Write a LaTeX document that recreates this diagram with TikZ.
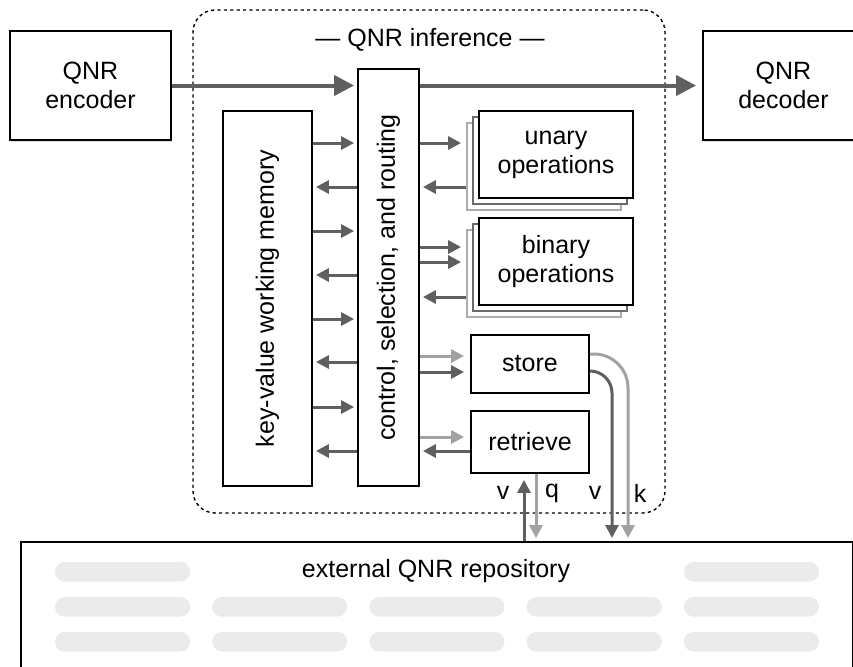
\documentclass[tikz,border=0pt]{standalone}
\usepackage{fontspec}
\setmainfont{Liberation Sans}
\usetikzlibrary{arrows.meta,shadows}

\definecolor{arrdark}{HTML}{5F5F5F}
\definecolor{arrlight}{HTML}{A2A2A2}
\definecolor{backdark}{HTML}{6A6A6A}
\definecolor{backlight}{HTML}{ACACAC}
\definecolor{pillgray}{HTML}{EBEBED}

\begin{document}
\begin{tikzpicture}[x=0.5pt, y=-0.5pt,
        every node/.style={font=\fontsize{12.5}{14.5}\selectfont},
        box/.style={draw, line width=0.9pt, fill=white, inner sep=0pt, align=center},
        back/.style={draw, line width=0.9pt, fill=white, inner sep=0pt, minimum width=77pt, minimum height=43.5pt},
        ends/.style={box, minimum width=80.5pt, minimum height=54.5pt,
            drop shadow={shadow xshift=0.4pt, shadow yshift=-0.8pt, opacity=0.25}},
        ops/.style={box, minimum width=77pt, minimum height=43.5pt},
        arr/.style={draw=arrdark, line width=1.5pt, -{Triangle[length=6.5pt,width=6.5pt]}},
        arrl/.style={arr, draw=arrlight},
        mainarr/.style={draw=arrdark, line width=2pt, -{Triangle[length=10pt,width=10pt]}},
        pill/.style={fill=pillgray, rounded corners=4.8pt}]
        \useasboundingbox (0,0) rectangle (853,666);

        \node[draw, line width=0.7pt, dash pattern=on 1.6pt off 1.6pt, rounded corners=11pt,
            minimum width=236pt, minimum height=251.5pt] (infer) at (429,261.5) {};
        \node (title) at (430,40) {— QNR inference —};

        \node[ends] (enc) at (90.5,85.5) {QNR\\encoder};
        \node[ends] (dec) at (783.5,85.5) {QNR\\decoder};

        \node[box, minimum width=44.5pt, minimum height=187.5pt] (mem) at (267.5,298.5) {\rotatebox{90}{key-value working memory}};
        \node[box, minimum width=30.5pt, minimum height=208.5pt] (ctrl) at (388.5,277.5) {\rotatebox{90}{control, selection, and routing}};

        \node[back, draw=backlight] (unary3) at (544,166.5) {};
        \node[back, draw=backdark] (unary2) at (550,160.5) {};
        \node[ops] (unary) at (556,154.5) {unary\\operations};

        \node[back, draw=backlight] (binary3) at (544,273.5) {};
        \node[back, draw=backdark] (binary2) at (550,267.5) {};
        \node[ops] (binary) at (556,261.5) {binary\\operations};

        \node[box, minimum width=59pt, minimum height=29pt] (store) at (530,364) {store};
        \node[box, minimum width=59pt, minimum height=31pt] (retrieve) at (530,442) {retrieve};

        \node[box, anchor=north west, minimum width=416pt, minimum height=75pt] (repo) at (20,541) {};
        \node (repotext) at (436,571) {external QNR repository};
        \foreach \c in {0,4}
            \fill[pill] (55+157.25*\c,562) rectangle ++(135,19.5);
        \foreach \r in {1,2}
            \foreach \c in {0,...,4}
                \fill[pill] (55+157.25*\c,562+35*\r) rectangle ++(135,19.5);

        \draw[mainarr, shorten >=1.5pt] (enc.east) -- (ctrl.west |- enc.east);
        \draw[mainarr, shorten >=3pt] (ctrl.east |- enc.east) -- (dec.west);

        \foreach \yy in {143,231,319,407}
            \draw[arr, shorten >=1.5pt] (mem.east |- 0,\yy) -- (ctrl.west |- 0,\yy);
        \foreach \yy in {187,275,362,451}
            \draw[arr, shorten >=1.5pt] (ctrl.west |- 0,\yy) -- (mem.east |- 0,\yy);

        \draw[arr, shorten >=2.5pt] (ctrl.east |- 0,143) -- (unary3.west |- 0,143);
        \draw[arr, shorten >=1.5pt] (unary3.west |- 0,187) -- (ctrl.east |- 0,187);
        \foreach \yy in {247,262}
            \draw[arr, shorten >=2.5pt] (ctrl.east |- 0,\yy) -- (binary3.west |- 0,\yy);
        \draw[arr, shorten >=1.5pt] (binary3.west |- 0,297) -- (ctrl.east |- 0,297);

        \draw[arrl, shorten >=3pt] (ctrl.east |- 0,356) -- (store.west |- 0,356);
        \draw[arr, shorten >=3pt] (ctrl.east |- 0,372) -- (store.west |- 0,372);
        \draw[arrl, shorten >=3pt] (ctrl.east |- 0,437) -- (retrieve.west |- 0,437);
        \draw[arr, shorten >=1.5pt] (retrieve.west |- 0,451) -- (ctrl.east |- 0,451);

        \draw[arrl, rounded corners=17pt, shorten >=1.5pt] (store.east |- 0,354) -| (repo.north -| 628,0);
        \draw[arr, rounded corners=11pt, shorten >=1.5pt] (store.east |- 0,371) -| (repo.north -| 612,0);
        \draw[arr, shorten >=3pt] (repo.north -| 524,0) -- (retrieve.south -| 524,0);
        \draw[arrl, shorten >=1.5pt] (retrieve.south -| 536,0) -- (repo.north -| 536,0);

        \node (vret) at (503,493) {v};
        \node (qret) at (552,493) {q};
        \node (vsto) at (595,493) {v};
        \node (ksto) at (640,493) {k};
    \end{tikzpicture}
\end{document}
